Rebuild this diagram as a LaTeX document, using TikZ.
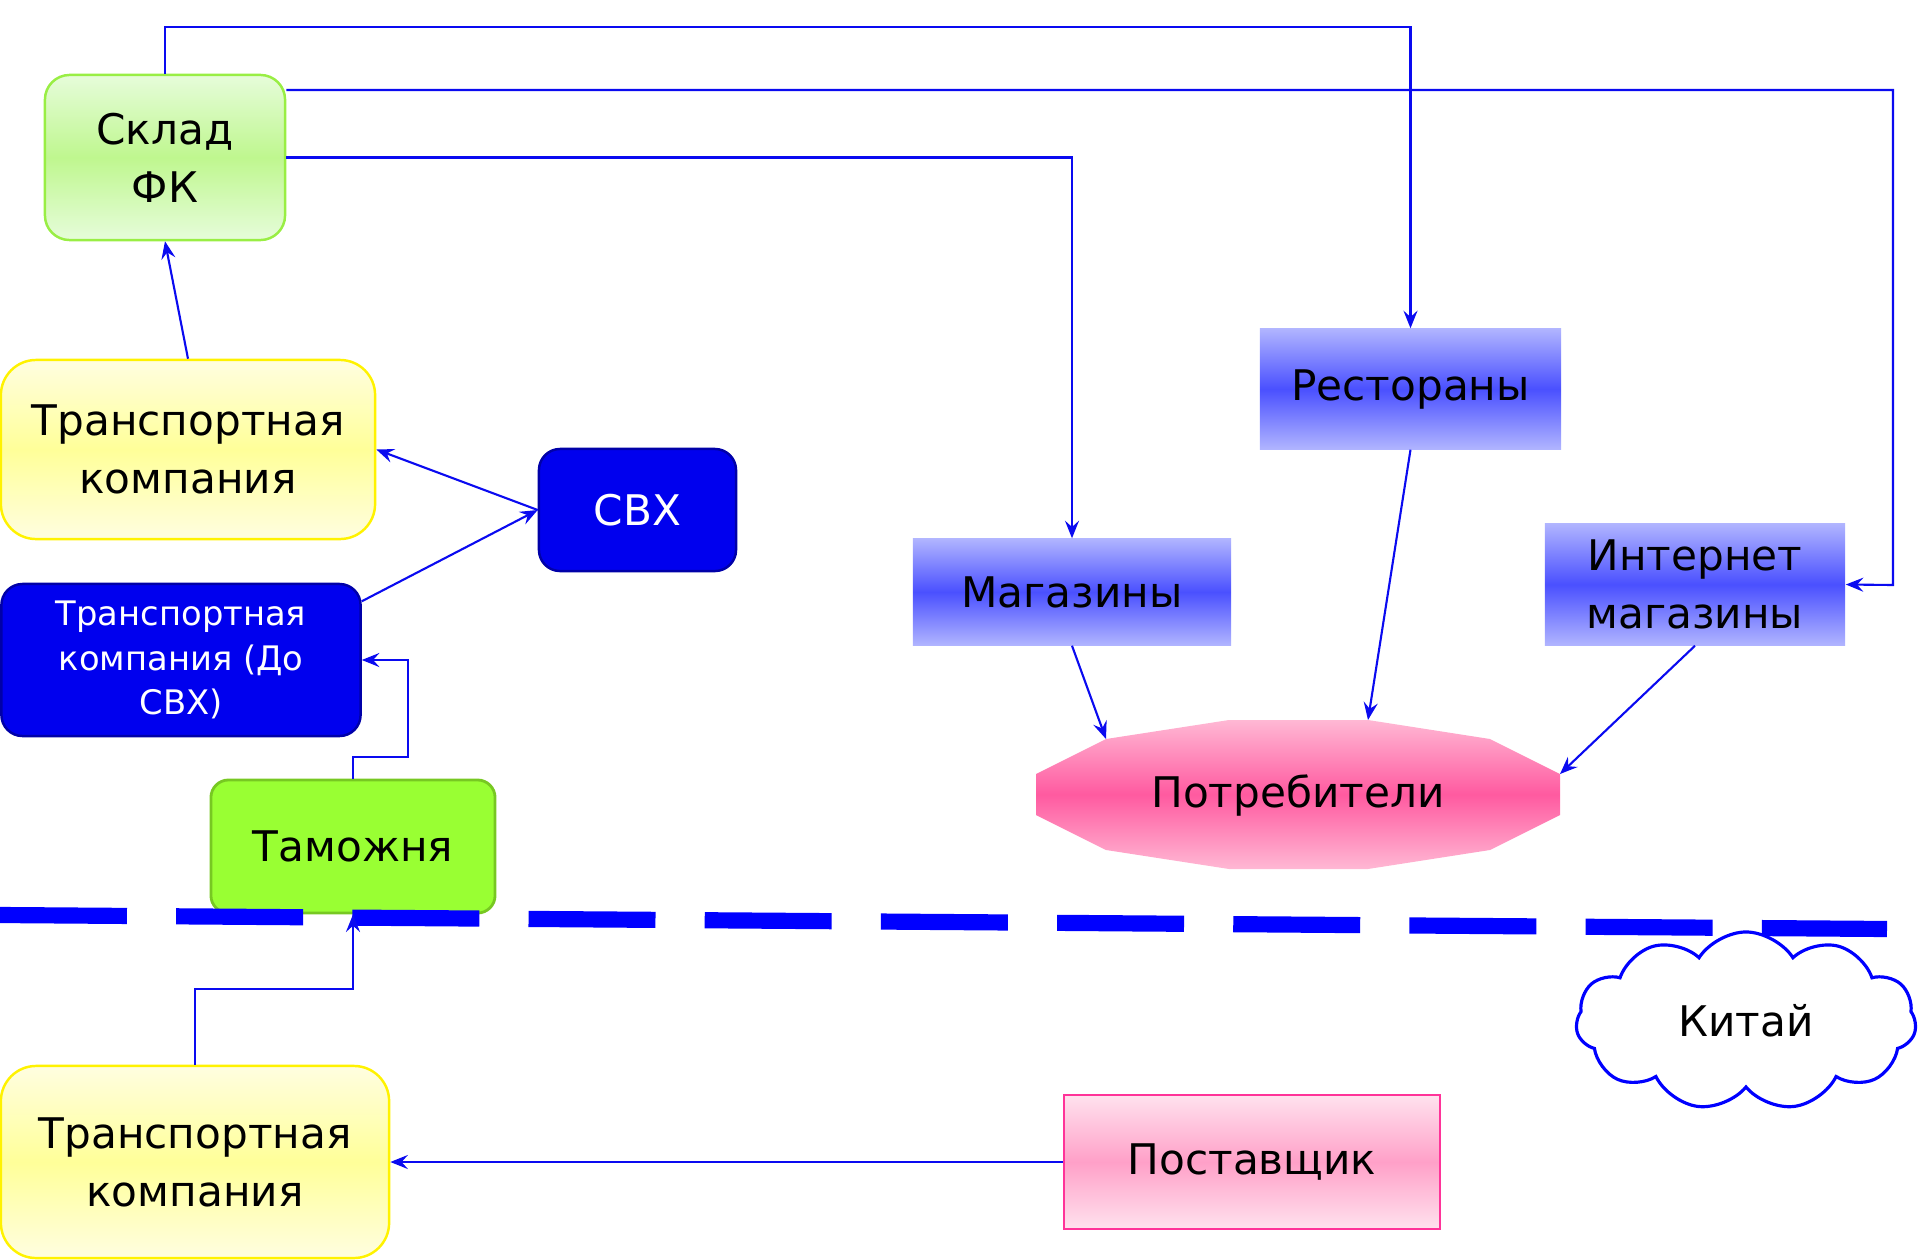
\documentclass[tikz,border=0pt]{standalone}
\usepackage{fontspec}
\setmainfont{DejaVu Sans}
\usetikzlibrary{arrows.meta,shapes.symbols,calc}

\definecolor{linkblue}{HTML}{0A0AF0}
\definecolor{skladtop}{HTML}{E6FCDA}
\definecolor{skladmid}{HTML}{BFF78F}
\definecolor{skladedge}{HTML}{99EE44}
\definecolor{yeltop}{HTML}{FFFEE0}
\definecolor{yelmid}{HTML}{FFFF99}
\definecolor{yeledge}{HTML}{FFF200}
\definecolor{deepblue}{HTML}{0000EE}
\definecolor{deepedge}{HTML}{0000A8}
\definecolor{customs}{HTML}{99FF33}
\definecolor{customsedge}{HTML}{77C822}
\definecolor{shoptop}{HTML}{B0B4FF}
\definecolor{shopmid}{HTML}{4A50FF}
\definecolor{consedge}{HTML}{FFB8D4}
\definecolor{consmid}{HTML}{FF5AA0}
\definecolor{supptop}{HTML}{FFE2EE}
\definecolor{suppmid}{HTML}{FFA0C8}
\definecolor{suppedge}{HTML}{FF3399}
\definecolor{border}{HTML}{0000FF}

\tikzset{
  boxtext/.style={inner sep=0pt, align=center, font=\fontsize{12}{16.5}\selectfont},
  sklad/.style={boxtext, rounded corners=7pt, draw=skladedge, line width=0.7pt,
    top color=skladtop, bottom color=skladtop, middle color=skladmid},
  yellowbox/.style={boxtext, rounded corners=10pt, draw=yeledge, line width=0.7pt,
    top color=yeltop, bottom color=yeltop, middle color=yelmid},
  darkbox/.style={boxtext, rounded corners=6pt, draw=deepedge, line width=0.7pt,
    fill=deepblue, text=white},
  customsbox/.style={boxtext, rounded corners=5pt, draw=customsedge, line width=0.8pt,
    fill=customs},
  shopbox/.style={boxtext, top color=shoptop, bottom color=shoptop, middle color=shopmid},
  suppbox/.style={boxtext, draw=suppedge, line width=0.7pt,
    top color=supptop, bottom color=supptop, middle color=suppmid},
  link/.style={draw=linkblue, line width=0.6pt,
    -{Stealth[length=5pt,width=4pt,inset=1.8pt]}},
}

\begin{document}
\begin{tikzpicture}[x=0.01cm,y=-0.01cm]
\useasboundingbox (0,0) rectangle (1920,1260);

% warehouse and left column
\node[sklad, minimum width=2.40cm, minimum height=1.65cm] (sklad) at (165,157.5) {Склад\\ФК};
\node[yellowbox, minimum width=3.74cm, minimum height=1.79cm] (tk1) at (188,449.5) {Транспортная\\компания};
\node[darkbox, minimum width=1.97cm, minimum height=1.22cm] (svh) at (637.5,510) {СВХ};
\node[darkbox, minimum width=3.59cm, minimum height=1.52cm,
      font=\fontsize{9.6}{12.6}\selectfont] (tk2) at (181,660) {Транспортная\\компания (До\\СВХ)};
\node[customsbox, minimum width=2.84cm, minimum height=1.33cm] (tam) at (353,846.5) {Таможня};

% retail channels
\node[shopbox, minimum width=3.18cm, minimum height=1.06cm] (mag) at (1072,592) {Магазины};
\node[shopbox, minimum width=3.01cm, minimum height=1.20cm] (rest) at (1410.5,389) {Рестораны};
\node[shopbox, minimum width=3.00cm, minimum height=1.21cm] (inet) at (1695,584.5) {Интернет\\магазины};

% consumers: twelve-sided plate
\coordinate (v1) at (1106,739);
\coordinate (v2) at (1229,720);
\coordinate (v3) at (1368,720);
\coordinate (v4) at (1490,739);
\coordinate (v5) at (1560,774);
\coordinate (v6) at (1560,815);
\coordinate (v7) at (1490,850);
\coordinate (v8) at (1368,869);
\coordinate (v9) at (1229,869);
\coordinate (v10) at (1106,850);
\coordinate (v11) at (1036,815);
\coordinate (v12) at (1036,774);
\shade[top color=consedge, bottom color=consedge, middle color=consmid]
  (v1) -- (v2) -- (v3) -- (v4) -- (v5) -- (v6) -- (v7) -- (v8) -- (v9) -- (v10) -- (v11) -- (v12) -- cycle;
\node[boxtext] (potr) at (1298,795) {Потребители};

% supplier side
\node[suppbox, minimum width=3.76cm, minimum height=1.34cm] (post) at (1252,1162) {Поставщик};
\node[yellowbox, minimum width=3.88cm, minimum height=1.92cm] (tk3) at (195,1162) {Транспортная\\компания};

% border line
\draw[border, line width=4.6pt, dash pattern=on 36.1pt off 14pt] (0,915) -- (1887,929);

\node[cloud, cloud puffs=11, cloud puff arc=115, cloud ignores aspect, draw=border,
      line width=0.9pt, fill=white, inner sep=0pt, minimum width=3.40cm, minimum height=1.78cm,
      font=\fontsize{12}{16.5}\selectfont] (china) at (1746,1021) {Китай};

% flows
\draw[link] (tk1.north) -- (sklad.south);
\draw[link] (svh.west) -- (tk1.east);
\draw[link] (tk2.18) -- (svh.west);
\draw[link] (tam.north) |- (408,757) |- (tk2.east);
\draw[link] (tk3.north) |- (353,989) -- (tam.south);
\draw[link] (post.west) -- (tk3.east);
\draw[link] (sklad.north) -- (165,27) -| (rest.north);
\draw[link] (sklad.east |- 0,90) -| (1893,585) -- (inet.east);
\draw[link] (sklad.east) -| (mag.north);
\draw[link] (mag.south) -- (v1);
\draw[link] (rest.south) -- (v3);
\draw[link] (inet.south) -- (v5);
\end{tikzpicture}
\end{document}
